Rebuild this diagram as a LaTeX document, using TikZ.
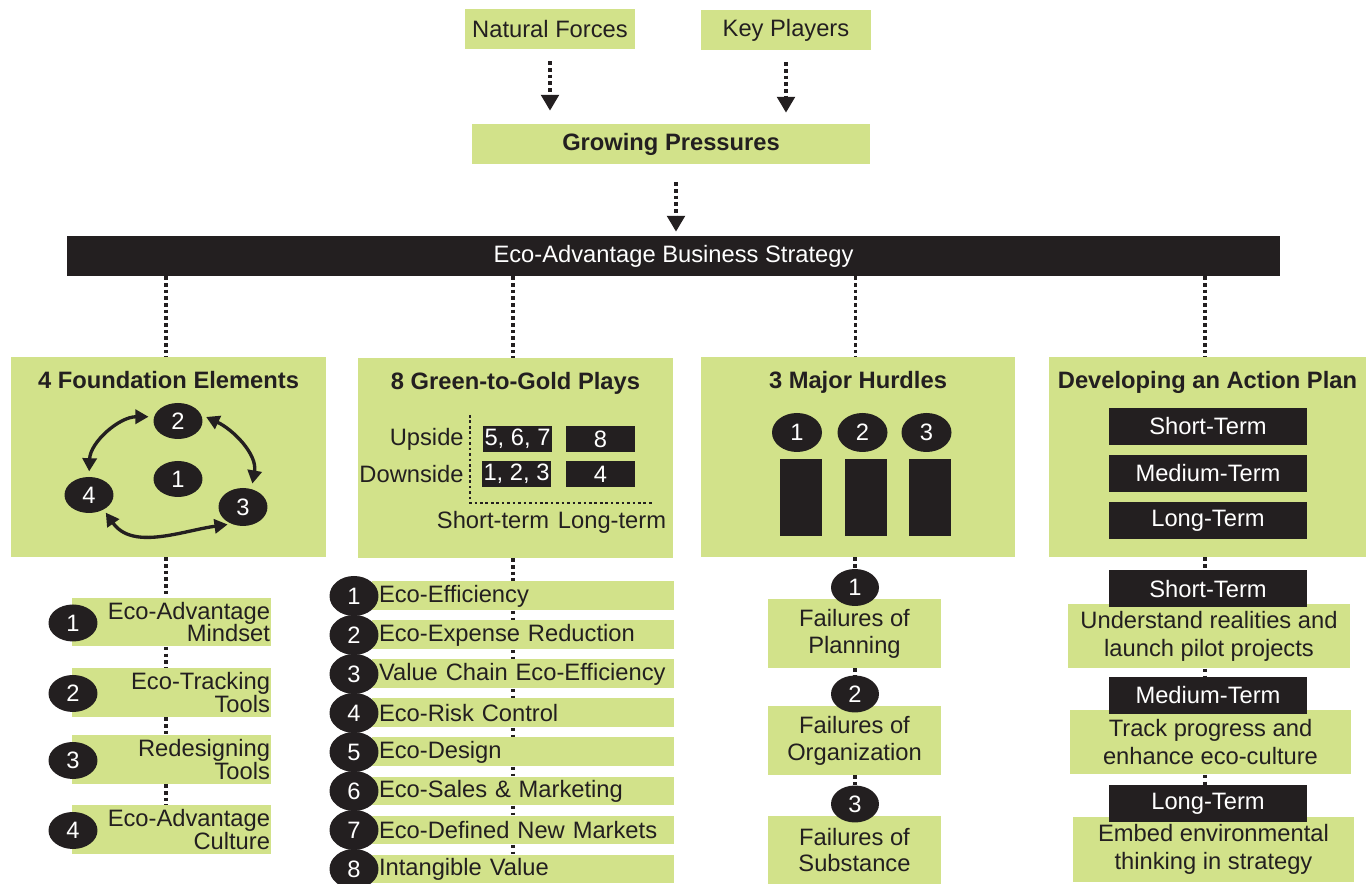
\documentclass[tikz,border=0pt]{standalone}
\usepackage{fontspec}
\setmainfont{Liberation Sans}
\usetikzlibrary{positioning, arrows.meta, shapes.geometric}
\definecolor{EcoGreen}{RGB}{210, 226, 138}
\definecolor{EcoBlack}{RGB}{35, 31, 32}
\tikzset{
  base/.style={inner sep=0pt, align=center, text=EcoBlack, font=\fontsize{13.5}{16}\selectfont},
  gbox/.style={base, fill=EcoGreen},
  bbox/.style={base, fill=EcoBlack, text=white},
  panel/.style={gbox, minimum width=6.3cm, minimum height=4cm},
  ptitle/.style={base, font=\fontsize{13.5}{16}\selectfont\bfseries},
  numel/.style={ellipse, bbox, minimum width=0.98cm, minimum height=0.74cm},
  dots/.style={EcoBlack, line width=2pt, dash pattern=on 2pt off 1.8pt},
  dotarrow/.style={dots, -{Triangle[length=9pt, width=10pt]}},
  cyc/.style={EcoBlack, line width=1.9pt, {Triangle[length=7.5pt, width=8pt]}-{Triangle[length=7.5pt, width=8pt]}},
  rlist/.style={text width=3.94cm, inner xsep=0.02cm, align=right, minimum height=0.98cm,
    font=\fontsize{13.5}{13}\selectfont},
  llist/.style={text width=5.76cm, inner xsep=0.14cm, align=left, minimum height=0.58cm},
}

\begin{document}
\begin{tikzpicture}[x=0.02cm, y=-0.02cm]
  \useasboundingbox (0,0) rectangle (1367,884);

  % pressures and strategy bar
  \node[gbox, minimum width=3.4cm, minimum height=0.8cm] (nat) at (550,29) {Natural Forces};
  \node[gbox, minimum width=3.4cm, minimum height=0.8cm] (key) at (786,30) {Key Players};
  \node[gbox, ptitle, fill=EcoGreen, minimum width=7.96cm, minimum height=0.8cm] (grow) at (671,144) {Growing Pressures};
  \node[bbox, minimum width=24.26cm, minimum height=0.8cm] (strat) at (673.5,256) {Eco-Advantage Business Strategy};
  \draw[dotarrow, shorten <=0.24cm, shorten >=0.26cm] (nat.south) -- (nat.south |- grow.north);
  \draw[dotarrow, shorten <=0.24cm, shorten >=0.22cm] (key.south) -- (key.south |- grow.north);
  \draw[dotarrow, shorten <=0.36cm, shorten >=0.08cm] ([xshift=0.1cm]grow.south) -- ([xshift=0.1cm]grow.south |- strat.north);

  % four panels
  \node[panel] (found) at (168.5,457) {};
  \node[panel] (plays) at (515.5,458) {};
  \node[panel] (hurd) at (858,457) {};
  \node[panel, minimum width=6.34cm] (plan) at (1207.5,457) {};
  \node[ptitle, below=0.28cm of found.north] (foundT) {4 Foundation Elements};
  \node[ptitle, below=0.28cm of plays.north] (playsT) {8 Green-to-Gold Plays};
  \node[ptitle, below=0.28cm of hurd.north] (hurdT) {3 Major Hurdles};
  \node[ptitle, below=0.28cm of plan.north] (planT) {Developing an Action Plan};
  \foreach \p in {found, plays, hurd, plan}
    \draw[dots] ([xshift=-0.05cm]strat.south -| \p) -- ([xshift=-0.05cm]\p.north);

  % foundation cycle
  \node[numel, minimum height=0.72cm] (e2) at (178,421) {2};
  \node[numel, minimum height=0.72cm] (e1) at (178,479) {1};
  \node[numel, minimum height=0.72cm] (e4) at (89,495) {4};
  \node[numel, minimum height=0.76cm] (e3) at (243,507) {3};
  \draw[cyc, shorten <=3pt, shorten >=3pt] (e4.north) to[out=88, in=180] (e2.170);
  \draw[cyc, shorten <=3pt, shorten >=3pt] (e2.15) to[out=-25, in=80] (e3.65);
  \draw[cyc, shorten <=2pt, shorten >=2pt] (e4.-45) to[out=-55, in=188] (e3.235);

  % upside / downside grid
  \coordinate (axtop) at (470,415);
  \coordinate (axo) at (470,503);
  \coordinate (axend) at (652,503);
  \draw[dots, line width=1.5pt, dash pattern=on 1.5pt off 1.6pt] (axtop) -- (axo) -- (axend);
  \node[base, anchor=base east] (up) at (464,446) {Upside};
  \node[base, anchor=base east] (down) at (464,483) {Downside};
  \node[bbox, minimum width=1.38cm, minimum height=0.52cm] (u1) at (517.5,439) {5, 6, 7};
  \node[bbox, minimum width=1.38cm, minimum height=0.52cm] (u2) at (600.5,439) {8};
  \node[bbox, minimum width=1.38cm, minimum height=0.52cm] (d1) at (516.5,474) {1, 2, 3};
  \node[bbox, minimum width=1.38cm, minimum height=0.52cm] (d2) at (600.5,474) {4};
  \node[base, anchor=base] (st) at (493,529) {Short-term};
  \node[base, anchor=base] (lt) at (612,529) {Long-term};

  % hurdles
  \foreach \i/\x in {1/797, 2/862.5, 3/926.5}{
    \node[numel, minimum width=1cm, minimum height=0.78cm] (h\i) at (\x,432.5) {\i};
    \node[bbox, minimum width=0.84cm, minimum height=1.54cm] (hr\i) at (\x+3.5,497.5) {};
  }

  % action plan terms
  \node[bbox, minimum width=3.96cm, minimum height=0.74cm] (t1) at (1208,426.5) {Short-Term};
  \node[bbox, minimum width=3.96cm, minimum height=0.74cm] (t2) at (1208,473.5) {Medium-Term};
  \node[bbox, minimum width=3.96cm, minimum height=0.74cm] (t3) at (1208,520.5) {Long-Term};

  % foundation elements list
  \foreach \i/\y/\t in {1/622/Eco-Advantage\\Mindset, 2/692.5/Eco-Tracking\\Tools,
      3/759.5/Redesigning\\Tools, 4/829.5/Eco-Advantage\\Culture}{
    \node[gbox, rlist] (fe\i) at (171.5,\y) {\t};
    \node[numel] (fn\i) at (73,\y+1) {\i};
  }
  \draw[dots] (166,0 |- found.south) -- (166,0 |- fe1.north);
  \foreach \i/\j in {1/2, 2/3, 3/4}
    \draw[dots] (fe\i.south -| 166,0) -- (fe\j.north -| 166,0);

  % green-to-gold plays list
  \foreach \i/\t in {1/Eco-Efficiency, 2/Eco-Expense Reduction, 3/Value Chain Eco-Efficiency,
      4/Eco-Risk Control, 5/Eco-Design, 6/Eco-Sales \& Marketing,
      7/Eco-Defined New Markets, 8/Intangible Value}{
    \node[gbox, llist] (pl\i) at (523,{557+39*\i}) {\t};
    \node[numel, minimum height=0.8cm] (pn\i) at (354,{557+39*\i}) {\i};
  }
  \draw[dots] (plays.south -| 513,0) -- (513,0 |- pl1.north);
  \foreach \i/\j in {1/2, 2/3, 3/4, 4/5, 5/6, 6/7, 7/8}
    \draw[dots] (pl\i.south -| 513,0) -- (pl\j.north -| 513,0);

  % failures list
  \foreach \i/\y/\yc/\t in {1/633.5/587.5/Planning, 2/740.5/694/Organization, 3/850/804/Substance}{
    \node[gbox, minimum width=3.48cm, minimum height=1.38cm, font=\fontsize{13.5}{15.3}\selectfont] (fb\i) at (854.5,\y) {Failures of\\\t};
    \node[numel, minimum width=0.96cm, minimum height=0.74cm] (fc\i) at (855,\yc) {\i};
  }
  \draw[dots] (hurd.south -| fc1) -- (fc1.north);
  \draw[dots] (fb1.south -| fc2) -- (fc2.north);
  \draw[dots] (fb2.south -| fc3) -- (fc3.north);

  % action plan list
  \foreach \i/\x/\y/\yt/\t/\s in {1/1209/636/589/Short-Term/Understand realities and\\launch pilot projects,
      2/1210.5/742/695.5/Medium-Term/Track progress and\\enhance eco-culture,
      3/1213.5/849.5/803.5/Long-Term/Embed environmental\\thinking in strategy}{
    \node[gbox, minimum width=5.64cm, minimum height=1.3cm, font=\fontsize{13.5}{15.8}\selectfont] (ab\i) at (\x,\y) {\s};
    \node[bbox, minimum width=3.96cm, minimum height=0.74cm] (as\i) at (1208,\yt) {\t};
  }
  \draw[dots] (plan.south -| 1205,0) -- (1205,0 |- as1.north);
  \draw[dots] (ab1.south -| 1205,0) -- (1205,0 |- as2.north);
  \draw[dots] (ab2.south -| 1205,0) -- (1205,0 |- as3.north);
\end{tikzpicture}
\end{document}
